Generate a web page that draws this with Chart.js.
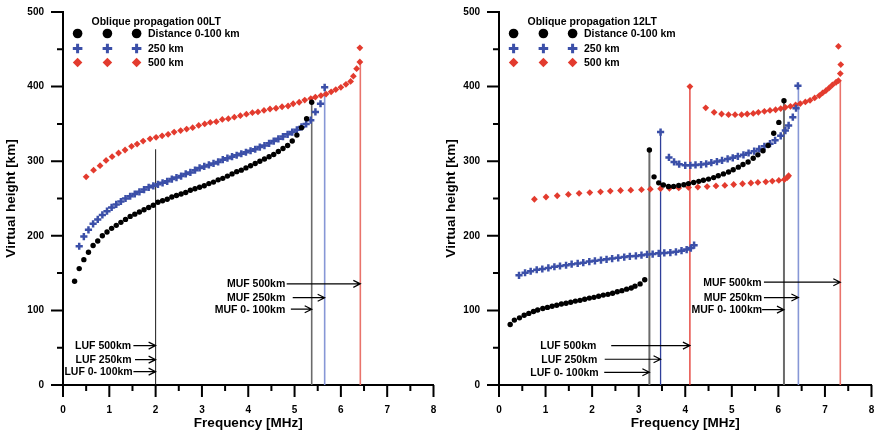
<!DOCTYPE html>
<html>
<head>
<meta charset="utf-8">
<script src="https://cdn.jsdelivr.net/npm/chart.js@4/dist/chart.umd.min.js"></script>
<style>
html, body { margin: 0; padding: 0; background: #fff; overflow: hidden; }
#left { position: absolute; left: 0; top: 0; width: 440px; height: 433px; }
#right { position: absolute; left: 440px; top: 0; width: 438px; height: 433px; }
</style>
</head>
<body>
<div id="left"><canvas id="chart00"></canvas></div>
<div id="right"><canvas id="chart12"></canvas></div>
<script>
// ---- 00LT : frequency [MHz] / virtual height [km] per distance ----
var f00_d100 = [0.25,0.35,0.45,0.55,0.65,0.75,0.85,0.95,1.05,1.15,1.25,1.35,1.45,1.55,1.65,1.75,1.85,1.95,2.05,2.15,2.25,2.35,2.45,2.55,2.65,2.75,2.85,2.95,3.05,3.15,3.25,3.35,3.45,3.55,3.65,3.75,3.85,3.95,4.05,4.15,4.25,4.35,4.45,4.55,4.65,4.75,4.85,4.95,5.05,5.15,5.26,5.37];
var h00_d100 = [139,156,168,178,187,193,200,205,210,214,218,222,226,229,232,235,238,241,245,247,249,252,254,256,258,261,263,265,267,270,272,275,277,280,283,286,288,291,294,297,300,303,306,309,313,317,321,327,335,345,357,379];
var f00_d250 = [0.35,0.45,0.55,0.65,0.75,0.85,0.95,1.05,1.15,1.25,1.35,1.45,1.55,1.65,1.75,1.85,1.95,2.05,2.15,2.25,2.35,2.45,2.55,2.65,2.75,2.85,2.95,3.05,3.15,3.25,3.35,3.45,3.55,3.65,3.75,3.85,3.95,4.05,4.15,4.25,4.35,4.45,4.55,4.65,4.75,4.85,4.95,5.05,5.15,5.25,5.35,5.45,5.56,5.65];
var h00_d250 = [186,199,208,216,222,228,233,238,242,246,250,253,256,259,262,265,267,269,271,273,276,278,280,283,285,288,291,293,295,297,299,302,304,306,308,310,312,314,316,319,321,324,327,330,333,336,339,342,346,350,355,366,377,399];
var f00_d500 = [0.50,0.66,0.80,0.93,1.06,1.20,1.34,1.48,1.60,1.73,1.88,2.01,2.14,2.27,2.40,2.54,2.67,2.80,2.93,3.06,3.18,3.31,3.44,3.57,3.70,3.83,3.96,4.09,4.21,4.34,4.47,4.60,4.73,4.86,4.97,5.10,5.22,5.35,5.45,5.57,5.68,5.79,5.89,6.00,6.11,6.21,6.27,6.34,6.41,6.41];
var h00_d500 = [279,288,294,301,306,311,315,320,323,327,330,332,334,336,339,341,343,345,348,350,352,353,356,357,359,361,363,365,366,368,370,371,373,374,377,379,382,384,386,388,390,393,396,399,403,407,414,424,433,452];

// LUF / MUF vertical lines (frequency, top height)
var lines00_f = [2.0, 5.37, 5.65, 6.42];
var lines00_top = [316, 379, 399, 432];
var lines00_color = ['#1a1a1a', '#6b6b6b', '#8797d6', '#e9736b'];
var lines00_width = [1, 1.6, 1.6, 1.6];

// arrow notes: label, height, where the label ends, arrow start, arrow end
var notes00_text = ['LUF 500km', 'LUF 250km', 'LUF 0- 100km', 'MUF 500km', 'MUF 250km', 'MUF 0- 100km'];
var notes00_h = [52.8, 34, 17.9, 135.6, 117, 101.6];
var notes00_end = [1.47, 1.48, 1.505, 4.80, 4.80, 4.80];
var notes00_from = [1.52, 1.555, 1.52, 4.83, 4.96, 4.92];
var notes00_to = [2.0, 2.0, 2.0, 6.42, 5.65, 5.37];

// ---- 12LT ----
var f12_d100 = [0.24,0.33,0.44,0.54,0.64,0.74,0.83,0.94,1.04,1.14,1.24,1.34,1.44,1.54,1.64,1.74,1.84,1.94,2.04,2.14,2.24,2.34,2.44,2.54,2.64,2.74,2.84,2.92,3.03,3.13,
                3.23,3.33,3.43,3.53,3.64,3.75,3.86,3.97,4.07,4.18,4.29,4.39,4.50,4.61,4.71,4.82,4.93,5.03,5.14,5.24,5.35,5.46,5.56,5.67,5.78,5.90,6.01,6.12];
var h12_d100 = [81,87,90,93.5,96,98.5,100.5,102.5,104,105.5,107,108.5,109.5,111,112.5,113.5,115,116.5,117.5,119,120.5,121.5,123,125,126.5,128.5,130,132.5,135.5,141,
                315,279,271,268,266,266,267.5,268.5,270,271.5,273,274.5,276,278,280.5,283,285.5,288.5,292,295.5,299,304,308.5,314,321,337.5,352,381];
var f12_d250 = [0.43,0.56,0.68,0.81,0.93,1.06,1.19,1.31,1.44,1.56,1.69,1.81,1.94,2.06,2.19,2.31,2.43,2.56,2.69,2.81,2.94,3.06,3.18,3.30,3.43,3.55,3.68,3.80,3.92,4.03,4.12,4.19,
                3.47,3.65,3.76,3.87,4.00,4.11,4.22,4.34,4.45,4.56,4.68,4.79,4.91,5.02,5.13,5.25,5.36,5.48,5.59,5.70,5.82,5.93,6.05,6.15,6.22,6.31,6.38,6.42];
var h12_d250 = [147,150.5,152.5,154.5,155.5,157,158.5,159.5,160.5,162,163,164,165.5,166.5,167.5,168.5,169.5,170.5,171.5,172.5,173,174,175,175.5,176.5,177,177.5,178.5,180,181.5,183.5,187.5,
                339,305,299,296,294.5,294.5,295,295.5,296.5,298,299.5,301,303,304.5,306.5,308.5,311,313.5,316.5,320,323.5,328,334,341,348,359,371,401];
var f12_d500 = [0.76,1.01,1.25,1.49,1.72,1.95,2.18,2.39,2.61,2.83,3.06,3.25,3.47,3.66,3.86,4.07,4.27,4.47,4.66,4.85,5.04,5.23,5.41,5.56,5.73,5.87,6.01,6.13,6.19,6.22,
                4.10,4.44,4.62,4.78,4.93,5.07,5.21,5.33,5.46,5.57,5.70,5.82,5.94,6.05,6.15,6.26,6.37,6.47,6.58,6.68,6.78,6.88,6.95,7.02,7.09,7.16,7.24,7.29,7.33,7.34,7.29];
var h12_d500 = [249,252,253.7,255.4,257,258,259,260,260.7,261.2,261.8,262.5,263.2,263.7,264.2,264.8,265.3,266,266.8,267.5,268.8,269.8,270.8,271.6,272.4,273.3,274.2,275.5,278,280.5,
                400,371.5,365.5,363.3,362.4,362.4,362.4,363.3,364,365.5,366.8,368,369,370.5,372.2,373.6,375.4,377.2,379.4,381.6,384.8,388,391.5,394.6,398.2,402.2,405.8,408,417.4,429.5,454];

var lines12_f = [3.23, 3.47, 4.10, 6.12, 6.43, 7.33];
var lines12_top = [315, 339, 400, 381, 401, 408];
var lines12_color = ['#6b6b6b', '#2f3f9a', '#e3322a', '#6b6b6b', '#8797d6', '#e9736b'];
var lines12_width = [2, 1.3, 1.3, 2, 1.6, 1.6];

var notes12_text = ['LUF 500km', 'LUF 250km', 'LUF 0- 100km', 'MUF 500km', 'MUF 250km', 'MUF 0- 100km'];
var notes12_h = [52.8, 34.5, 17, 137.8, 117.2, 101];
var notes12_end = [2.09, 2.11, 2.14, 5.64, 5.65, 5.65];
var notes12_from = [2.41, 2.27, 2.26, 5.69, 5.69, 5.65];
var notes12_to = [4.10, 3.47, 3.23, 7.33, 6.43, 6.12];

var legend_text = ['Distance 0-100 km', '250 km', '500 km'];

var FONT = '"Liberation Sans", Arial, sans-serif';
var BLACK = '#000000';
var BLUE = '#3b4fa8';
var RED = '#e33b2e';

function pairs(fs, hs) {
    var out = [];
    for (var i = 0; i < fs.length; i++) {
        out.push({x: fs[i], y: hs[i]});
    }
    return out;
}

// small legend marker, same shapes as the chart points but bigger
function draw_marker(ctx, style, x, y, r) {
    ctx.beginPath();
    if (style === 'circle') {
        ctx.fillStyle = BLACK;
        ctx.arc(x, y, r, 0, Math.PI * 2);
        ctx.fill();
    } else if (style === 'cross') {
        ctx.strokeStyle = BLUE;
        ctx.lineWidth = 3;
        ctx.moveTo(x - r, y); ctx.lineTo(x + r, y);
        ctx.moveTo(x, y - r); ctx.lineTo(x, y + r);
        ctx.stroke();
    } else {
        ctx.fillStyle = RED;
        ctx.moveTo(x, y - r); ctx.lineTo(x + r, y); ctx.lineTo(x, y + r); ctx.lineTo(x - r, y);
        ctx.closePath();
        ctx.fill();
    }
}

var axis_ticks = {
    id: 'axis_ticks',
    afterDraw: function(chart) {
        var ctx = chart.ctx;
        var xs = chart.scales.x;
        var ys = chart.scales.y;
        var area = chart.chartArea;
        ctx.save();
        ctx.strokeStyle = '#000';
        ctx.lineWidth = 2;
        ctx.beginPath();
        for (var v = 0; v <= 8; v += 0.5) {
            var px = xs.getPixelForValue(v);
            ctx.moveTo(px, area.bottom);
            ctx.lineTo(px, area.bottom + (v % 1 === 0 ? 12 : 6));
        }
        for (var h = 0; h <= 500; h += 50) {
            var py = ys.getPixelForValue(h);
            ctx.moveTo(area.left, py);
            ctx.lineTo(area.left - (h % 100 === 0 ? 12 : 6), py);
        }
        ctx.stroke();
        ctx.restore();
    }
};

var notes_and_legend = {
    id: 'notes_and_legend',
    afterDraw: function(chart, args, opts) {
        var ctx = chart.ctx;
        var xs = chart.scales.x;
        var ys = chart.scales.y;
        var left = chart.chartArea.left;
        ctx.save();

        // LUF / MUF arrows with their labels
        ctx.font = 'bold 10.5px ' + FONT;
        ctx.textAlign = 'right';
        ctx.textBaseline = 'middle';
        ctx.fillStyle = '#000';
        ctx.strokeStyle = '#000';
        ctx.lineWidth = 1.2;
        for (var i = 0; i < opts.text.length; i++) {
            var y = ys.getPixelForValue(opts.h[i]);
            var x1 = xs.getPixelForValue(opts.from[i]);
            var x2 = xs.getPixelForValue(opts.to[i]);
            ctx.fillText(opts.text[i], xs.getPixelForValue(opts.end[i]), y + 0.5);
            ctx.beginPath();
            ctx.moveTo(x1, y);
            ctx.lineTo(x2, y);
            ctx.moveTo(x2 - 7, y - 3.5);
            ctx.lineTo(x2, y);
            ctx.lineTo(x2 - 7, y + 3.5);
            ctx.stroke();
        }

        // legend block, top left of the plot
        ctx.textAlign = 'left';
        ctx.fillText(opts.title, left + 28.5, 22);
        var styles = ['circle', 'cross', 'rotated'];
        var rows = [33.5, 48.5, 62.5];
        for (var r = 0; r < 3; r++) {
            draw_marker(ctx, styles[r], left + 14.6, rows[r], 4.8);
            draw_marker(ctx, styles[r], left + 44.4, rows[r], 4.8);
            draw_marker(ctx, styles[r], left + 73.6, rows[r], 4.8);
            ctx.fillStyle = '#000';
            ctx.fillText(legend_text[r], left + 85, rows[r] + 0.5);
        }
        ctx.restore();
    }
};

function build_chart(canvas_id, p) {
    var datasets = [];

    // vertical LUF/MUF lines go behind the points
    for (var i = 0; i < p.lines_f.length; i++) {
        datasets.push({
            data: [{x: p.lines_f[i], y: 0}, {x: p.lines_f[i], y: p.lines_top[i]}],
            showLine: true,
            borderColor: p.lines_color[i],
            borderWidth: p.lines_width[i],
            pointRadius: 0,
            order: 10
        });
    }
    datasets.push({
        data: pairs(p.f500, p.h500),
        pointStyle: 'rectRot', pointRadius: 3.4,
        pointBackgroundColor: RED, pointBorderWidth: 0, order: 3
    });
    datasets.push({
        data: pairs(p.f250, p.h250),
        pointStyle: 'cross', pointRadius: 3.6,
        pointBorderColor: BLUE, pointBorderWidth: 2.5, order: 2
    });
    datasets.push({
        data: pairs(p.f100, p.h100),
        pointStyle: 'circle', pointRadius: 2.7,
        pointBackgroundColor: BLACK, pointBorderWidth: 0, order: 1
    });

    var tick_font = {family: FONT, size: 10, weight: 'bold'};
    var title_font = {family: FONT, size: 13.5, weight: 'bold'};

    // tick marks are drawn by axis_ticks; the hidden grid tickLength only sets the label offset
    return new Chart(document.getElementById(canvas_id), {
        type: 'scatter',
        data: {datasets: datasets},
        options: {
            responsive: true,
            maintainAspectRatio: false,
            animation: false,
            layout: {padding: {top: 12, right: p.pad_right, left: 0, bottom: 0}},
            plugins: {
                legend: {display: false},
                tooltip: {enabled: false},
                notes_and_legend: {
                    title: p.title, text: p.notes_text, h: p.notes_h,
                    end: p.notes_end, from: p.notes_from, to: p.notes_to
                }
            },
            scales: {
                x: {
                    type: 'linear', min: 0, max: 8,
                    ticks: {stepSize: 1, padding: 0, color: '#000', font: tick_font, maxRotation: 0},
                    grid: {display: false, drawTicks: true, tickLength: 19},
                    border: {display: true, color: '#000', width: 2},
                    title: {display: true, text: 'Frequency [MHz]', color: '#000', font: title_font, padding: {top: 0, bottom: 2}},
                    afterFit: function(s) { s.height = 48; }
                },
                y: {
                    type: 'linear', min: 0, max: 500,
                    ticks: {stepSize: 100, padding: 0, color: '#000', font: tick_font},
                    grid: {display: false, drawTicks: true, tickLength: 19},
                    border: {display: true, color: '#000', width: 2},
                    title: {display: true, text: 'Virtual height [km]', color: '#000', font: title_font, padding: {top: 3, bottom: 0}},
                    afterFit: function(s) { s.width = p.y_width; }
                }
            }
        },
        plugins: [axis_ticks, notes_and_legend]
    });
}

build_chart('chart00', {
    title: 'Oblique propagation 00LT',
    f100: f00_d100, h100: h00_d100,
    f250: f00_d250, h250: h00_d250,
    f500: f00_d500, h500: h00_d500,
    lines_f: lines00_f, lines_top: lines00_top, lines_color: lines00_color, lines_width: lines00_width,
    notes_text: notes00_text, notes_h: notes00_h, notes_end: notes00_end, notes_from: notes00_from, notes_to: notes00_to,
    y_width: 63, pad_right: 5
});

build_chart('chart12', {
    title: 'Oblique propagation 12LT',
    f100: f12_d100, h100: h12_d100,
    f250: f12_d250, h250: h12_d250,
    f500: f12_d500, h500: h12_d500,
    lines_f: lines12_f, lines_top: lines12_top, lines_color: lines12_color, lines_width: lines12_width,
    notes_text: notes12_text, notes_h: notes12_h, notes_end: notes12_end, notes_from: notes12_from, notes_to: notes12_to,
    y_width: 59, pad_right: 5
});
</script>
</body>
</html>
